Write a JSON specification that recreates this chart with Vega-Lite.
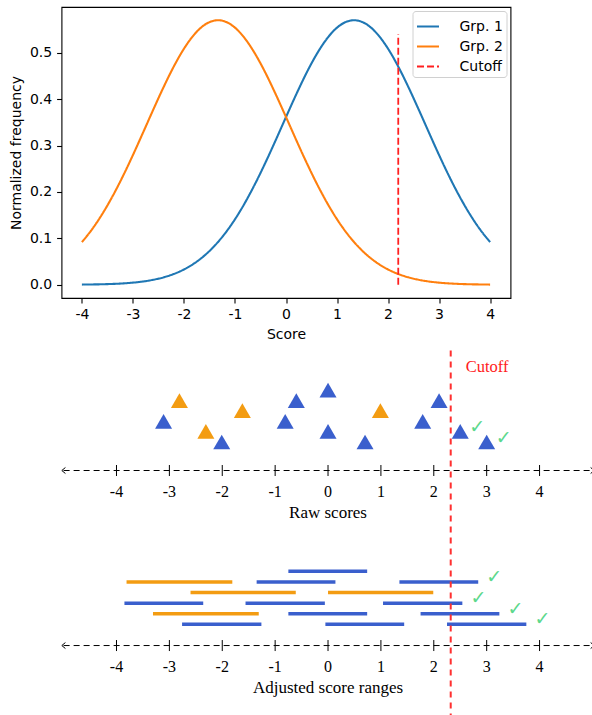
{
  "$schema": "https://vega.github.io/schema/vega-lite/v6.json",
  "padding": {"left": 8.5, "top": 6, "right": 0, "bottom": 0},
  "spacing": 7.5,
  "resolve": {"scale": {"color": "independent", "strokeDash": "independent"}, "legend": {"color": "independent", "strokeDash": "independent"}},
  "config": {
    "view": {"stroke": null},
    "axis": {
      "labelFont": "DejaVu Sans", "labelFontSize": 14, "labelColor": "black",
      "titleFont": "DejaVu Sans", "titleFontSize": 14, "titleFontWeight": "normal", "titleColor": "black",
      "tickColor": "black", "tickSize": 4.9, "tickWidth": 1.1, "labelPadding": 4.9, "titlePadding": 5.6,
      "domain": false, "grid": false
    },
    "legend": {
      "orient": "top-right", "offset": 4, "padding": 3, "strokeColor": "#d0d0d0", "fillColor": "white",
      "cornerRadius": 3, "labelFont": "DejaVu Sans", "labelFontSize": 14, "labelColor": "black",
      "symbolType": "stroke", "symbolSize": 484, "symbolStrokeWidth": 2.1, "rowPadding": -2, "labelOffset": 19
    }
  },
  "datasets": {
    "curves": [
      {"series":"Grp. 1","x":-4.0,"y":0.0004},{"series":"Grp. 1","x":-3.8,"y":0.0007},{"series":"Grp. 1","x":-3.6,"y":0.0011},
      {"series":"Grp. 1","x":-3.4,"y":0.0018},{"series":"Grp. 1","x":-3.2,"y":0.0029},{"series":"Grp. 1","x":-3.0,"y":0.0046},
      {"series":"Grp. 1","x":-2.8,"y":0.0071},{"series":"Grp. 1","x":-2.6,"y":0.0108},{"series":"Grp. 1","x":-2.4,"y":0.0160},
      {"series":"Grp. 1","x":-2.2,"y":0.0232},{"series":"Grp. 1","x":-2.0,"y":0.0330},{"series":"Grp. 1","x":-1.8,"y":0.0460},
      {"series":"Grp. 1","x":-1.6,"y":0.0628},{"series":"Grp. 1","x":-1.4,"y":0.0840},{"series":"Grp. 1","x":-1.2,"y":0.1100},
      {"series":"Grp. 1","x":-1.0,"y":0.1411},{"series":"Grp. 1","x":-0.8,"y":0.1775},{"series":"Grp. 1","x":-0.6,"y":0.2187},
      {"series":"Grp. 1","x":-0.4,"y":0.2639},{"series":"Grp. 1","x":-0.2,"y":0.3120},{"series":"Grp. 1","x":0.0,"y":0.3614},
      {"series":"Grp. 1","x":0.2,"y":0.4101},{"series":"Grp. 1","x":0.4,"y":0.4560},{"series":"Grp. 1","x":0.6,"y":0.4966},
      {"series":"Grp. 1","x":0.8,"y":0.5299},{"series":"Grp. 1","x":1.0,"y":0.5540},{"series":"Grp. 1","x":1.2,"y":0.5674},
      {"series":"Grp. 1","x":1.333,"y":0.5700},{"series":"Grp. 1","x":1.4,"y":0.5693},{"series":"Grp. 1","x":1.6,"y":0.5597},
      {"series":"Grp. 1","x":1.8,"y":0.5390},{"series":"Grp. 1","x":2.0,"y":0.5086},{"series":"Grp. 1","x":2.2,"y":0.4701},
      {"series":"Grp. 1","x":2.4,"y":0.4257},{"series":"Grp. 1","x":2.6,"y":0.3777},{"series":"Grp. 1","x":2.8,"y":0.3283},
      {"series":"Grp. 1","x":3.0,"y":0.2795},{"series":"Grp. 1","x":3.2,"y":0.2332},{"series":"Grp. 1","x":3.4,"y":0.1906},
      {"series":"Grp. 1","x":3.6,"y":0.1526},{"series":"Grp. 1","x":3.8,"y":0.1197},{"series":"Grp. 1","x":4.0,"y":0.0920},
      {"series":"Grp. 2","x":-4.0,"y":0.0920},{"series":"Grp. 2","x":-3.8,"y":0.1197},{"series":"Grp. 2","x":-3.6,"y":0.1526},
      {"series":"Grp. 2","x":-3.4,"y":0.1906},{"series":"Grp. 2","x":-3.2,"y":0.2332},{"series":"Grp. 2","x":-3.0,"y":0.2795},
      {"series":"Grp. 2","x":-2.8,"y":0.3283},{"series":"Grp. 2","x":-2.6,"y":0.3777},{"series":"Grp. 2","x":-2.4,"y":0.4257},
      {"series":"Grp. 2","x":-2.2,"y":0.4701},{"series":"Grp. 2","x":-2.0,"y":0.5086},{"series":"Grp. 2","x":-1.8,"y":0.5390},
      {"series":"Grp. 2","x":-1.6,"y":0.5597},{"series":"Grp. 2","x":-1.4,"y":0.5693},{"series":"Grp. 2","x":-1.333,"y":0.5700},
      {"series":"Grp. 2","x":-1.2,"y":0.5674},{"series":"Grp. 2","x":-1.0,"y":0.5540},{"series":"Grp. 2","x":-0.8,"y":0.5299},
      {"series":"Grp. 2","x":-0.6,"y":0.4966},{"series":"Grp. 2","x":-0.4,"y":0.4560},{"series":"Grp. 2","x":-0.2,"y":0.4101},
      {"series":"Grp. 2","x":0.0,"y":0.3614},{"series":"Grp. 2","x":0.2,"y":0.3120},{"series":"Grp. 2","x":0.4,"y":0.2639},
      {"series":"Grp. 2","x":0.6,"y":0.2187},{"series":"Grp. 2","x":0.8,"y":0.1775},{"series":"Grp. 2","x":1.0,"y":0.1411},
      {"series":"Grp. 2","x":1.2,"y":0.1100},{"series":"Grp. 2","x":1.4,"y":0.0840},{"series":"Grp. 2","x":1.6,"y":0.0628},
      {"series":"Grp. 2","x":1.8,"y":0.0460},{"series":"Grp. 2","x":2.0,"y":0.0330},{"series":"Grp. 2","x":2.2,"y":0.0232},
      {"series":"Grp. 2","x":2.4,"y":0.0160},{"series":"Grp. 2","x":2.6,"y":0.0108},{"series":"Grp. 2","x":2.8,"y":0.0071},
      {"series":"Grp. 2","x":3.0,"y":0.0046},{"series":"Grp. 2","x":3.2,"y":0.0029},{"series":"Grp. 2","x":3.4,"y":0.0018},
      {"series":"Grp. 2","x":3.6,"y":0.0011},{"series":"Grp. 2","x":3.8,"y":0.0007},{"series":"Grp. 2","x":4.0,"y":0.0004}
    ],
    "cut": [{"series":"Cutoff","x":2.2,"y":0,"y2":0.54}],
    "raw": [
      {"grp":"B","x":-3.11,"v":21.15},{"grp":"B","x":-2.01,"v":19.2},{"grp":"B","x":-0.6,"v":23.1},
      {"grp":"B","x":-0.81,"v":21.15},{"grp":"B","x":0.0,"v":24.1},{"grp":"B","x":0.0,"v":20.2},
      {"grp":"B","x":0.7,"v":19.2},{"grp":"B","x":1.79,"v":21.15},{"grp":"B","x":2.1,"v":23.1},
      {"grp":"B","x":2.5,"v":20.2},{"grp":"B","x":3.0,"v":19.2},
      {"grp":"O","x":-2.81,"v":23.1},{"grp":"O","x":-1.62,"v":22.15},{"grp":"O","x":-2.31,"v":20.2},
      {"grp":"O","x":0.99,"v":22.15}
    ],
    "ranges": [
      {"grp":"B","lo":-0.75,"hi":0.74,"v":7},
      {"grp":"O","lo":-3.81,"hi":-1.81,"v":6},{"grp":"B","lo":-1.35,"hi":0.14,"v":6},{"grp":"B","lo":1.35,"hi":2.84,"v":6},
      {"grp":"O","lo":-2.6,"hi":-0.61,"v":5},{"grp":"O","lo":0.0,"hi":1.99,"v":5},
      {"grp":"B","lo":-3.85,"hi":-2.36,"v":4},{"grp":"B","lo":-1.56,"hi":-0.06,"v":4},{"grp":"B","lo":1.04,"hi":2.54,"v":4},
      {"grp":"O","lo":-3.31,"hi":-1.31,"v":3},{"grp":"B","lo":-0.75,"hi":0.74,"v":3},{"grp":"B","lo":1.75,"hi":3.24,"v":3},
      {"grp":"B","lo":-2.76,"hi":-1.26,"v":2},{"grp":"B","lo":-0.05,"hi":1.44,"v":2},{"grp":"B","lo":2.25,"hi":3.75,"v":2}
    ],
    "lines": [
      {"v":16.51,"xa":-5.0,"xb":5.0,"title":"Raw scores"},
      {"v":0,"xa":-5.0,"xb":5.0,"title":"Adjusted score ranges"}
    ],
    "ticks": [
      {"t":-4,"v":16.51,"label":"-4"},{"t":-3,"v":16.51,"label":"-3"},{"t":-2,"v":16.51,"label":"-2"},
      {"t":-1,"v":16.51,"label":"-1"},{"t":0,"v":16.51,"label":"0"},{"t":1,"v":16.51,"label":"1"},
      {"t":2,"v":16.51,"label":"2"},{"t":3,"v":16.51,"label":"3"},{"t":4,"v":16.51,"label":"4"},
      {"t":-4,"v":0,"label":"-4"},{"t":-3,"v":0,"label":"-3"},{"t":-2,"v":0,"label":"-2"},
      {"t":-1,"v":0,"label":"-1"},{"t":0,"v":0,"label":"0"},{"t":1,"v":0,"label":"1"},
      {"t":2,"v":0,"label":"2"},{"t":3,"v":0,"label":"3"},{"t":4,"v":0,"label":"4"}
    ],
    "cutoff": [{"x":2.32,"v":26.3,"label":"Cutoff"}]
  },
  "vconcat": [
    {
      "width": 449,
      "height": 291,
      "view": {"stroke": "black", "strokeWidth": 1.1},
      "layer": [
        {
          "data": {"name": "curves"},
          "mark": {"type": "line", "strokeWidth": 2.1, "interpolate": "monotone"},
          "encoding": {
            "x": {"field": "x", "type": "quantitative", "scale": {"domain": [-4.4, 4.4], "nice": false, "zero": false},
                  "axis": {"values": [-4,-3,-2,-1,0,1,2,3,4], "labelExpr": "'' + datum.value"}, "title": "Score"},
            "y": {"field": "y", "type": "quantitative", "scale": {"domain": [-0.0285, 0.5985], "nice": false, "zero": false},
                  "axis": {"values": [0,0.1,0.2,0.3,0.4,0.5], "format": ".1f"}, "title": "Normalized frequency"},
            "color": {"field": "series", "type": "nominal",
                      "scale": {"domain": ["Grp. 1","Grp. 2","Cutoff"], "range": ["#1f77b4","#ff7f0e","#ff2020"]},
                      "legend": {"title": null}},
            "strokeDash": {"field": "series", "type": "nominal",
                      "scale": {"domain": ["Grp. 1","Grp. 2","Cutoff"], "range": [[1,0],[1,0],[7,3]]},
                      "legend": {"title": null}}
          }
        },
        {
          "data": {"name": "cut"},
          "mark": {"type": "rule", "strokeWidth": 1.8},
          "encoding": {
            "x": {"field": "x", "type": "quantitative"},
            "y": {"field": "y", "type": "quantitative"},
            "y2": {"field": "y2"},
            "color": {"field": "series", "type": "nominal"},
            "strokeDash": {"field": "series", "type": "nominal"}
          }
        }
      ]
    },
    {
      "width": 532,
      "height": 365,
      "layer": [
        {
          "data": {"name": "lines"},
          "mark": {"type": "rule", "color": "black", "strokeWidth": 1, "strokeDash": [6, 4]},
          "encoding": {
            "x": {"field": "xa", "type": "quantitative", "scale": {"domain": [-5.04, 5.02], "nice": false, "zero": false}, "axis": null},
            "x2": {"field": "xb"},
            "y": {"field": "v", "type": "quantitative", "scale": {"domain": [-6.6, 27.83], "nice": false, "zero": false}, "axis": null}
          }
        },
        {
          "data": {"name": "lines"},
          "mark": {"type": "point", "shape": "M0.6,-1L-0.6,0L0.6,1", "size": 36, "filled": false, "stroke": "black", "strokeWidth": 1, "opacity": 1},
          "encoding": {
            "x": {"field": "xa", "type": "quantitative"},
            "y": {"field": "v", "type": "quantitative"}
          }
        },
        {
          "data": {"name": "lines"},
          "mark": {"type": "point", "shape": "M-0.6,-1L0.6,0L-0.6,1", "size": 36, "filled": false, "stroke": "black", "strokeWidth": 1, "opacity": 1},
          "encoding": {
            "x": {"field": "xb", "type": "quantitative"},
            "y": {"field": "v", "type": "quantitative"}
          }
        },
        {
          "data": {"name": "lines"},
          "mark": {"type": "text", "font": "Liberation Serif", "fontSize": 17, "color": "black", "dy": 42, "baseline": "middle"},
          "encoding": {
            "x": {"datum": 0, "type": "quantitative"},
            "y": {"field": "v", "type": "quantitative"},
            "text": {"field": "title"}
          }
        },
        {
          "data": {"name": "ticks"},
          "mark": {"type": "point", "shape": "M0,-1L0,1", "size": 121, "filled": false, "stroke": "black", "strokeWidth": 1, "opacity": 1},
          "encoding": {
            "x": {"field": "t", "type": "quantitative"},
            "y": {"field": "v", "type": "quantitative"}
          }
        },
        {
          "data": {"name": "ticks"},
          "mark": {"type": "text", "font": "Liberation Serif", "fontSize": 16, "color": "black", "dy": 21.5, "baseline": "middle"},
          "encoding": {
            "x": {"field": "t", "type": "quantitative"},
            "y": {"field": "v", "type": "quantitative"},
            "text": {"field": "label"}
          }
        },
        {
          "data": {"name": "ranges"},
          "mark": {"type": "rule", "strokeWidth": 3.5, "strokeCap": "butt"},
          "encoding": {
            "x": {"field": "lo", "type": "quantitative"},
            "x2": {"field": "hi"},
            "y": {"field": "v", "type": "quantitative"},
            "color": {"field": "grp", "type": "nominal", "scale": {"domain": ["B","O"], "range": ["#3a5fcd","#f39c12"]}, "legend": null}
          }
        },
        {
          "data": {"name": "ranges"},
          "transform": [{"filter": "datum.hi > 2.32"}],
          "mark": {"type": "text", "text": "✓", "font": "DejaVu Sans", "fontSize": 19, "color": "#5cd88c", "dx": 16, "dy": -5, "baseline": "middle"},
          "encoding": {
            "x": {"field": "hi", "type": "quantitative"},
            "y": {"field": "v", "type": "quantitative"}
          }
        },
        {
          "data": {"name": "raw"},
          "mark": {"type": "point", "shape": "triangle-up", "size": 289, "filled": true, "opacity": 1},
          "encoding": {
            "x": {"field": "x", "type": "quantitative"},
            "y": {"field": "v", "type": "quantitative"},
            "color": {"field": "grp", "type": "nominal", "legend": null}
          }
        },
        {
          "data": {"name": "raw"},
          "transform": [{"filter": "datum.x > 2.32"}],
          "mark": {"type": "text", "text": "✓", "font": "DejaVu Sans", "fontSize": 19, "color": "#5cd88c", "dx": 17, "dy": -4, "baseline": "middle"},
          "encoding": {
            "x": {"field": "x", "type": "quantitative"},
            "y": {"field": "v", "type": "quantitative"}
          }
        },
        {
          "data": {"name": "cutoff"},
          "mark": {"type": "rule", "color": "#ff3030", "strokeWidth": 2, "strokeDash": [6, 5]},
          "encoding": {
            "x": {"field": "x", "type": "quantitative"}
          }
        },
        {
          "data": {"name": "cutoff"},
          "mark": {"type": "text", "font": "Liberation Serif", "fontSize": 16.5, "color": "#ff2020", "dx": 15, "align": "left", "baseline": "middle"},
          "encoding": {
            "x": {"field": "x", "type": "quantitative"},
            "y": {"field": "v", "type": "quantitative"},
            "text": {"field": "label"}
          }
        }
      ]
    }
  ]
}
